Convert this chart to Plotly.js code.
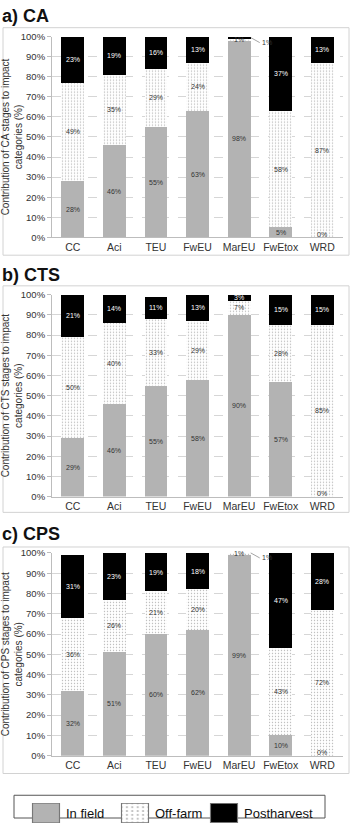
<!DOCTYPE html>
<html>
<head>
<meta charset="utf-8">
<script src="https://cdn.plot.ly/plotly-3.0.1.min.js"></script>
<style>
  html, body { margin: 0; padding: 0; background: #fff; }
  #chart { width: 353px; height: 828px; }
</style>
</head>
<body>
<div id="chart"></div>
<script>
// Impact categories (x axis)
const categories = ['CC', 'Aci', 'TEU', 'FwEU', 'MarEU', 'FwEtox', 'WRD'];

// Stage names (legend)
const stages = ['In field', 'Off-farm', 'Postharvest'];

// Systems (one panel each)
const systems = ['CA', 'CTS', 'CPS'];
const panelTitles = ['a) CA', 'b) CTS', 'c) CPS'];

// Contribution (%) of each stage, per system
const caInField     = [28, 46, 55, 63, 98, 5, 0];
const caOffFarm     = [49, 35, 29, 24, 1, 58, 87];
const caPostharvest = [23, 19, 16, 13, 1, 37, 13];

const ctsInField     = [29, 46, 55, 58, 90, 57, 0];
const ctsOffFarm     = [50, 40, 33, 29, 7, 28, 85];
const ctsPostharvest = [21, 14, 11, 13, 3, 15, 15];

const cpsInField     = [32, 51, 60, 62, 99, 10, 0];
const cpsOffFarm     = [36, 26, 21, 20, 1, 43, 72];
const cpsPostharvest = [31, 23, 19, 18, 1, 47, 28];

const series = [
  [caInField, caOffFarm, caPostharvest],
  [ctsInField, ctsOffFarm, ctsPostharvest],
  [cpsInField, cpsOffFarm, cpsPostharvest]
];

// ---- page geometry (pixels) ----
const W = 353, H = 828;
const px = v => v / W;
const py = v => 1 - v / H;

const plotLeft = 52, plotRight = 343;
// [top (100%), bottom (0%)] of each plot area
const plotRows = [[37, 240], [298, 502], [559, 764]];
// frame around each panel [top, bottom]
const frames = [[28, 258], [289, 518], [553, 782]];
const titleY = [16, 278, 540];

const FONT = '"Liberation Sans", Arial, Helvetica, sans-serif';
const GREY = '#b3b3b3';

const stageMarkers = [
  { color: GREY },
  { color: '#ffffff',
    pattern: { shape: '.', fgcolor: '#bcbcbc', bgcolor: '#ffffff', size: 3, solidity: 0.16 } },
  { color: '#000000' }
];

const traces = [];
const annotations = [];
const shapes = [];
const layout = {
  width: W, height: H,
  margin: { l: 0, r: 0, t: 0, b: 0 },
  paper_bgcolor: '#fff', plot_bgcolor: '#fff',
  font: { family: FONT, color: '#333' },
  barmode: 'stack',
  bargap: 0.45,
  showlegend: true,
  legend: {
    orientation: 'h',
    x: px(26), xanchor: 'left',
    y: py(807), yanchor: 'top',
    borderwidth: 0, bgcolor: 'rgba(0,0,0,0)',
    font: { size: 13, color: '#111', family: FONT },
    entrywidth: 44, entrywidthmode: 'pixels',
    traceorder: 'normal',
    itemclick: false
  }
};

systems.forEach((sys, p) => {
  const sfx = p === 0 ? '' : String(p + 1);
  const xa = 'x' + sfx, ya = 'y' + sfx;
  const [top, bottom] = plotRows[p];

  layout['xaxis' + sfx] = {
    domain: [px(plotLeft), px(plotRight)],
    anchor: ya,
    type: 'category',
    categoryorder: 'array', categoryarray: categories,
    showline: true, linecolor: '#bdbdbd', linewidth: 1,
    ticks: '', showgrid: false, zeroline: false,
    tickfont: { size: 10.5, color: '#333', family: FONT },
    fixedrange: true
  };
  layout['yaxis' + sfx] = {
    domain: [py(bottom), py(top)],
    anchor: xa,
    range: [0, 100],
    dtick: 10, tick0: 0,
    ticksuffix: '%',
    showline: true, linecolor: '#bdbdbd', linewidth: 1,
    ticks: 'outside', ticklen: 4, tickcolor: '#bdbdbd',
    showgrid: true, gridcolor: '#d6d6d6', griddash: 'dash', gridwidth: 1,
    zeroline: false,
    tickfont: { size: 9.5, color: '#333', family: FONT },
    title: {
      text: 'Contribution of ' + sys + ' stages to impact<br>categories (%)',
      font: { size: 10, color: '#333', family: FONT },
      standoff: 8
    },
    fixedrange: true
  };

  stages.forEach((stage, s) => {
    traces.push({
      type: 'bar',
      name: stage,
      legendgroup: stage,
      showlegend: p === 0,
      x: categories,
      y: series[p][s],
      xaxis: xa, yaxis: ya,
      marker: Object.assign({ line: { width: 0 } }, stageMarkers[s]),
      hoverinfo: 'skip'
    });
  });

  // value labels centred in each stacked segment
  categories.forEach((cat, i) => {
    let base = 0;
    stages.forEach((stage, s) => {
      const v = series[p][s][i];
      const mid = base + v / 2;
      base += v;
      const txt = v + '%';
      const col = s === 2 ? '#ffffff' : '#333333';
      if (s === 2 && v < 2) {
        // tiny top segment: label set beside the bar with a short leader
        annotations.push({
          xref: xa, yref: ya, x: i + 0.28, y: Math.min(mid, 100),
          text: txt, showarrow: true, arrowhead: 0, arrowwidth: 0.6,
          arrowcolor: '#666', ax: 9, ay: 5, xanchor: 'left', yanchor: 'middle',
          font: { size: 7, color: '#333333', family: FONT }
        });
      } else {
        annotations.push({
          xref: xa, yref: ya, x: cat, y: mid,
          text: txt, showarrow: false,
          yshift: v === 0 ? 3 : 0,
          font: { size: 7, color: col, family: FONT }
        });
      }
    });
  });

  // panel title
  annotations.push({
    xref: 'paper', yref: 'paper', x: px(0), y: py(titleY[p]),
    xanchor: 'left', yanchor: 'middle', showarrow: false,
    text: '<b>' + panelTitles[p] + '</b>',
    font: { size: 18, color: '#111', family: FONT }
  });

  // frame around the panel
  shapes.push({
    type: 'rect', xref: 'paper', yref: 'paper',
    x0: px(3), x1: px(349), y0: py(frames[p][1]), y1: py(frames[p][0]),
    line: { color: '#d2d2d2', width: 1 }, fillcolor: 'rgba(0,0,0,0)', layer: 'below'
  });
});

// frame around the legend
shapes.push({
  type: 'rect', xref: 'paper', yref: 'paper',
  x0: px(14), x1: px(325), y0: py(827), y1: py(804),
  line: { color: '#555', width: 1 }, fillcolor: 'rgba(0,0,0,0)'
});

layout.annotations = annotations;
layout.shapes = shapes;

Plotly.newPlot('chart', traces, layout, { staticPlot: true, displayModeBar: false }).then(gd => {
  // let the last legend entry run past the computed legend width
  gd.querySelectorAll('.legend [clip-path]').forEach(e => e.removeAttribute('clip-path'));
  // enlarge the legend swatches to wide boxes
  gd.querySelectorAll('.legend .legendpoints path').forEach(p => {
    const t = p.getAttribute('transform') || '';
    p.setAttribute('transform', t + ' scale(2.25,1.6)');
    p.style.stroke = '#777';
    p.style.strokeWidth = '0.5px';
  });
});
</script>
</body>
</html>
